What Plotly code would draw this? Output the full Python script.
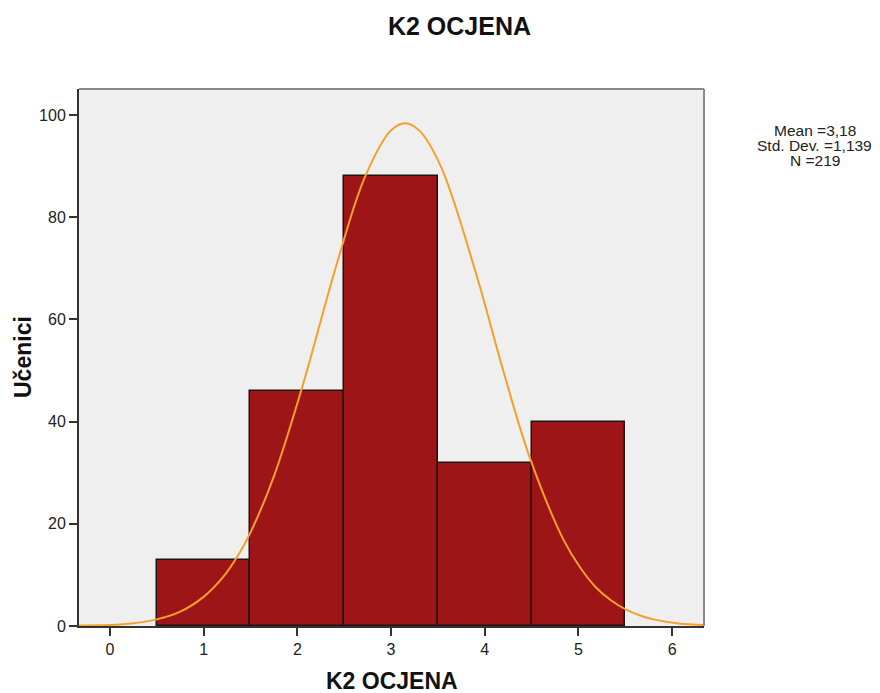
import plotly.graph_objects as go

# Histogram data (grade -> number of students)
grades = [1, 2, 3, 4, 5]
counts = [13, 46, 88, 32, 40]

# Normal curve (x, frequency)
curve_x = [-0.33, 0.0, 0.25, 0.5, 0.75, 1.0, 1.2, 1.37, 1.5, 1.75, 2.05, 2.42, 2.72,
           3.0, 3.15, 3.3, 3.53, 3.91, 4.2, 4.48, 4.84, 5.02, 5.19, 5.35, 5.51,
           5.65, 5.8, 6.07, 6.34]
curve_y = [0.1, 0.2, 0.55, 1.3, 2.8, 5.7, 9.4, 13.9, 18.3, 29.3, 46.6, 70.8, 87.8,
           97.0, 98.4, 97.0, 90.0, 68.8, 49.8, 33.0, 16.9, 11.4, 7.5, 5.0, 3.2,
           2.1, 1.3, 0.5, 0.2]

x_ticks = [0, 1, 2, 3, 4, 5, 6]
y_ticks = [0, 20, 40, 60, 80, 100]

stats_lines = ["Mean =3,18", "Std. Dev. =1,139", "N =219"]

FONT = "Arial, Liberation Sans, sans-serif"

# The page body has an 8px default margin, so the figure is drawn 8px smaller
W, H = 872, 685
L, R, T, B = 71, 176, 81, 67
PW, PH = W - L - R, H - T - B  # 625 x 537


def px_x(xp):  # reference page x pixel -> paper x
    return (xp - 8 - L) / PW


def px_y(yp):  # reference page y pixel -> paper y
    return (H - B - (yp - 8)) / PH


fig = go.Figure()
fig.add_trace(go.Bar(
    x=grades, y=counts, width=1,
    marker=dict(color="#9e1518", line=dict(color="#1e1414", width=1.5)),
    showlegend=False, hoverinfo="x+y",
))
fig.add_trace(go.Scatter(
    x=curve_x, y=curve_y, mode="lines",
    line=dict(color="#f5a02a", width=2, shape="spline", smoothing=1.0),
    showlegend=False, hoverinfo="skip",
))

fig.update_layout(
    width=W, height=H,
    margin=dict(l=L, r=R, t=T, b=B),
    paper_bgcolor="white",
    plot_bgcolor="#efefef",
    bargap=0,
    font=dict(family=FONT, color="#222222"),
    title=dict(text="<b>K2 OCJENA</b>", x=(459.5 - 8) / W, xanchor="center",
               y=1 - (26.5 - 8) / H, yanchor="middle",
               font=dict(size=25, family=FONT, color="#111111")),
    xaxis=dict(range=[-0.33, 6.34], tickvals=x_ticks, ticks="outside",
               ticklen=8, tickwidth=2, tickcolor="#333333",
               showline=True, linecolor="#333333", linewidth=2,
               showgrid=False, zeroline=False,
               tickfont=dict(size=16, family=FONT, color="#222222")),
    yaxis=dict(range=[0, 105.1], tickvals=y_ticks, ticks="outside",
               ticklen=8, tickwidth=2, tickcolor="#333333",
               showline=True, linecolor="#333333", linewidth=2,
               showgrid=False, zeroline=False,
               tickfont=dict(size=16, family=FONT, color="#222222")),
    shapes=[
        dict(type="line", xref="paper", yref="paper", x0=0, x1=1, y0=1, y1=1,
             line=dict(color="#8a8a8a", width=2)),
        dict(type="line", xref="paper", yref="paper", x0=1, x1=1, y0=0, y1=1,
             line=dict(color="#8a8a8a", width=2)),
    ],
)

annotations = [
    dict(text="<b>K2 OCJENA</b>", xref="paper", yref="paper", x=0.5,
         y=px_y(680.5), xanchor="center", yanchor="middle",
         showarrow=False, font=dict(size=23, family=FONT, color="#111111")),
    dict(text="<b>Učenici</b>", xref="paper", yref="paper", x=px_x(22.5),
         y=px_y(357.5), xanchor="center", yanchor="middle", textangle=-90,
         showarrow=False, font=dict(size=23, family=FONT, color="#111111")),
]
for i, line in enumerate(stats_lines):
    annotations.append(dict(
        text=line, xref="paper", yref="paper", x=px_x(814.5),
        y=px_y(130.5 + 15 * i), xanchor="center", yanchor="middle",
        showarrow=False, font=dict(size=15.5, family=FONT, color="#222222")))
fig.update_layout(annotations=annotations)

fig.write_html("out.html")
